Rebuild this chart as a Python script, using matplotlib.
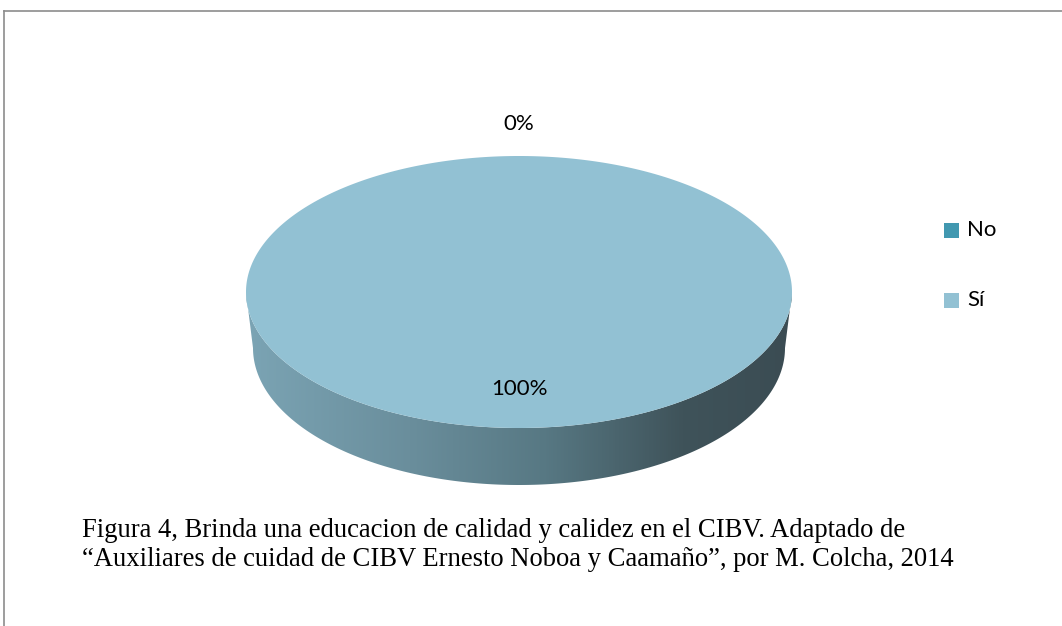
import numpy as np
import matplotlib
matplotlib.use("Agg")
import matplotlib.pyplot as plt
from matplotlib.patches import Polygon, Rectangle
from matplotlib.colors import LinearSegmentedColormap
from matplotlib.lines import Line2D

# ---- data ----
categories = ["No", "Sí"]
values = [0, 100]
pct_labels = ["0%", "100%"]
colors = ["#4198b0", "#92c1d3"]
caption_lines = [
    "Figura 4, Brinda una educacion de calidad y calidez en el CIBV. Adaptado de",
    "\u201cAuxiliares de cuidad de CIBV Ernesto Noboa y Caamaño\u201d, por M. Colcha, 2014",
]

W, H = 1062, 626
fig = plt.figure(figsize=(W / 100, H / 100), dpi=100)
ax = fig.add_axes([0, 0, 1, 1])
ax.set_xlim(0, W)
ax.set_ylim(H, 0)
ax.axis("off")

# frame lines
ax.add_line(Line2D([4, W], [11, 11], color="#8c8c8c", lw=1.2))
ax.add_line(Line2D([4, 4], [11, H], color="#8c8c8c", lw=1.2))

# pie geometry (pixel space)
cx, cy, a, b = 519, 292, 273, 136
depth = 56
a2, b2 = 266, 137

# side (front) with gradient
t = np.linspace(0, np.pi, 200)
top_arc = np.column_stack([cx + a * np.cos(t), cy + b * np.sin(t)])
bot_arc = np.column_stack([cx + a2 * np.cos(t[::-1]), cy + depth + b2 * np.sin(t[::-1])])
side = np.vstack([top_arc, bot_arc])
side_patch = Polygon(side, closed=True, facecolor="none", edgecolor="none")
ax.add_patch(side_patch)
cmap = LinearSegmentedColormap.from_list(
    "side",
    [(0.0, "#7ba4b4"), (0.3, "#6a8e9c"), (0.55, "#577883"), (0.8, "#3f535a"), (1.0, "#3b4c53")],
)
grad = np.linspace(0, 1, 512)[None, :]
im = ax.imshow(grad, cmap=cmap, extent=[cx - a, cx + a, cy + depth + b2 + 2, cy - 2],
               aspect="auto", zorder=2)
im.set_clip_path(side_patch)

# top faces from data
total = float(sum(values))
start = 90.0
for v, c in zip(values, colors):
    frac = v / total
    if frac <= 0:
        continue
    ang = np.deg2rad(np.linspace(start, start - 360 * frac, 400))
    pts = np.column_stack([cx + a * np.cos(ang), cy - b * np.sin(ang)])
    if frac < 1:
        pts = np.vstack([[cx, cy], pts])
    ax.add_patch(Polygon(pts, closed=True, facecolor=c, edgecolor="none", zorder=3))
    start -= 360 * frac

# percentage labels
lab_font = dict(family=["Lato", "DejaVu Sans"], fontsize=16, color="black")
ax.text(cx, 124, pct_labels[0], ha="center", va="center", zorder=5, **lab_font)
ax.text(cx, 389, pct_labels[1], ha="center", va="center", zorder=5, **lab_font)

# legend
for i, (cat, c) in enumerate(zip(categories, colors)):
    yy = 230.5 + i * 70
    ax.add_patch(Rectangle((944, yy - 7.5), 15, 15, facecolor=c, edgecolor="none"))
    ax.text(967, yy, cat, ha="left", va="center", **lab_font)

# caption
for i, line in enumerate(caption_lines):
    ax.text(82, 537 + i * 29, line, ha="left", va="baseline",
            family=["Liberation Serif", "DejaVu Serif"], fontsize=19.2, color="black")

fig.savefig("out.png", dpi=100)
